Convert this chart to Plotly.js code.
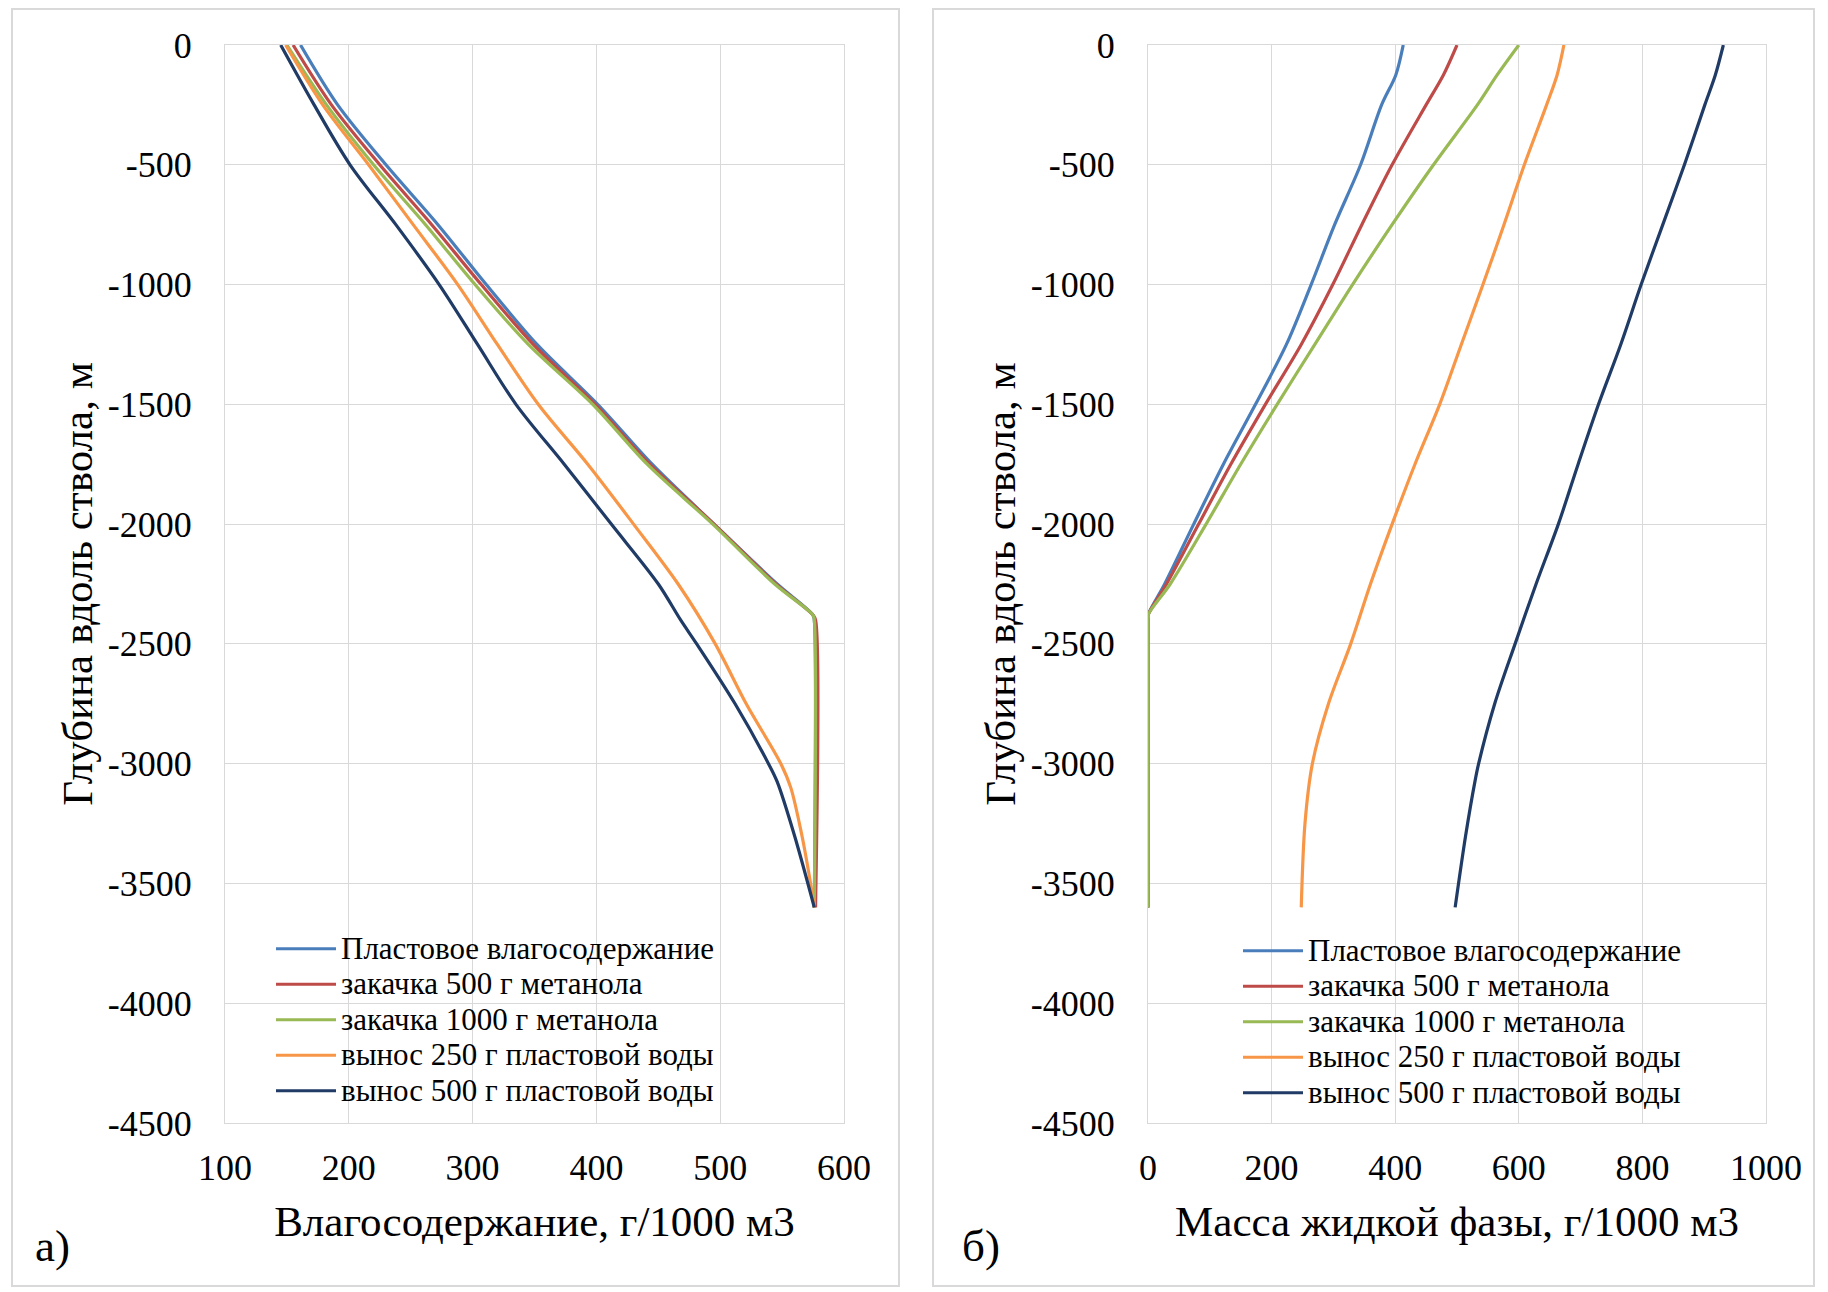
<!DOCTYPE html>
<html>
<head>
<meta charset="utf-8">
<script src="https://cdn.plot.ly/plotly-3.0.1.min.js"></script>
<style>
  html, body { margin: 0; padding: 0; background: #ffffff; }
  #chart { width: 1828px; height: 1292px; }
</style>
</head>
<body>
<div id="chart"></div>
<script>
// Series names and colours (shared by both panels)
const seriesNames = [
  'Пластовое влагосодержание',
  'закачка 500 г метанола',
  'закачка 1000 г метанола',
  'вынос 250 г пластовой воды',
  'вынос 500 г пластовой воды'
];
const seriesColors = ['#4A7EBB', '#BE4B48', '#98B954', '#F79646', '#1F3B66'];

// Depth tick labels (hyphen minus, as in the original layout)
const depthTicks = [0, -500, -1000, -1500, -2000, -2500, -3000, -3500, -4000, -4500];
const depthTickText = ['0', '-500', '-1000', '-1500', '-2000', '-2500', '-3000', '-3500', '-4000', '-4500'];

// Panel а): moisture content, g/1000 m3, along the wellbore
const depthA_base = [0, -250, -500, -750, -1000, -1250, -1500, -1750, -2000, -2250, -2380, -2400, -3600];
const moistPlast   = [161, 191, 230, 272, 311, 352, 401, 445, 495, 546, 575, 576, 576];
const moistMet500  = [155, 186, 225, 267, 307, 349, 399, 443, 495, 545, 575, 577, 577];
const moistMet1000 = [150, 182, 220, 262, 302, 345, 397, 441, 494, 544, 575, 576, 576];

const depthA_w250 = [0, -250, -500, -750, -1000, -1250, -1500, -1750, -2000, -2250, -2500, -2750, -3000, -3100, -3300, -3500, -3600];
const moistW250   = [149, 179, 216, 252, 288, 320, 353, 393, 430, 466, 496, 521, 549, 557, 566, 573, 576];

const depthA_w500 = [0, -250, -500, -750, -1000, -1250, -1500, -1750, -2000, -2250, -2400, -2500, -2750, -3000, -3075, -3300, -3600];
const moistW500   = [145, 172, 201, 238, 273, 304, 335, 374, 412, 450, 468, 481, 512, 539, 546, 560, 576];

// Panel б): liquid phase mass, g/1000 m3, along the wellbore
const depthB_base = [0, -125, -250, -500, -750, -1000, -1250, -1500, -1750, -2000, -2250, -2380, -2400, -3600];
const liqPlast    = [413, 401, 378, 344, 302, 264, 224, 174, 122, 74, 27, 0, 0, 0];
const liqMet500   = [500, 478, 450, 395, 346, 299, 248, 190, 134, 82, 30, 0, 0, 0];
const liqMet1000  = [600, 565, 533, 462, 395, 331, 270, 209, 150, 94, 36, 0, 0, 0];

const depthB_w250 = [0, -125, -250, -500, -750, -1000, -1250, -1500, -1750, -2000, -2250, -2500, -2750, -3000, -3250, -3600];
const liqW250     = [673, 662, 645, 609, 576, 542, 507, 472, 432, 395, 360, 328, 292, 266, 254, 248];

const depthB_w500 = [0, -125, -250, -500, -750, -1000, -1250, -1500, -1750, -2000, -2250, -2500, -2750, -3000, -3075, -3300, -3600];
const liqW500     = [931, 918, 901, 868, 833, 798, 765, 729, 696, 664, 628, 594, 561, 535, 529, 514, 497];

// ---- page geometry ----
const W = 1828, H = 1292;
const M = { l: 225, r: 62, t: 45, b: 169 };
const plotW = W - M.l - M.r, plotH = H - M.t - M.b;
const px = x => (x - M.l) / plotW;          // pixel x -> paper x
const py = y => 1 - (y - M.t) / plotH;      // pixel y -> paper y

const FONT = 'Liberation Serif, Times New Roman, serif';

const panelA = [
  [depthA_base, moistPlast], [depthA_base, moistMet500], [depthA_base, moistMet1000],
  [depthA_w250, moistW250], [depthA_w500, moistW500]
];
const panelB = [
  [depthB_base, liqPlast], [depthB_base, liqMet500], [depthB_base, liqMet1000],
  [depthB_w250, liqW250], [depthB_w500, liqW500]
];

// legend entries are set a little larger than the legend row pitch
const legendLabel = s => '<span style="font-size:31px">' + s + '</span>';

const lineStyle = color => ({ color, width: 3.2, shape: 'spline', smoothing: 0.9 });

const traces = [];
panelA.forEach(([d, v], i) => traces.push({
  type: 'scatter', mode: 'lines', x: v, y: d, name: legendLabel(seriesNames[i]),
  xaxis: 'x', yaxis: 'y', legend: 'legend', cliponaxis: false,
  line: lineStyle(seriesColors[i]), hoverinfo: 'x+y'
}));
panelB.forEach(([d, v], i) => traces.push({
  type: 'scatter', mode: 'lines', x: v, y: d, name: legendLabel(seriesNames[i]),
  xaxis: 'x2', yaxis: 'y2', legend: 'legend2', cliponaxis: false,
  line: lineStyle(seriesColors[i]), hoverinfo: 'x+y'
}));

const gridCol = '#d9d9d9';
const tickFont = { family: FONT, size: 36, color: '#000000' };
const titleFont = { family: FONT, size: 43, color: '#000000' };

function xAxis(domain, range, dtick, title, anchor) {
  return {
    domain, range, dtick, tick0: 0, anchor,
    showgrid: true, gridcolor: gridCol, gridwidth: 1,
    showline: true, linecolor: gridCol, linewidth: 1, mirror: true,
    zeroline: false, ticks: '', tickfont: tickFont, ticklabelstandoff: 13,
    title: { text: title, font: titleFont, standoff: 18 }, fixedrange: true
  };
}
function yAxis(anchor) {
  return {
    domain: [0, 1], range: [-4500, 0], anchor,
    tickmode: 'array', tickvals: depthTicks, ticktext: depthTickText,
    showgrid: true, gridcolor: gridCol, gridwidth: 1,
    showline: true, linecolor: gridCol, linewidth: 1, mirror: true,
    zeroline: false, ticks: '', tickfont: tickFont, ticklabelstandoff: 25,
    title: { text: 'Глубина вдоль ствола, м', font: titleFont, standoff: 1 }, fixedrange: true
  };
}

const legendBase = {
  font: { family: FONT, size: 25, color: '#000000' },
  bgcolor: 'rgba(0,0,0,0)', borderwidth: 0, itemwidth: 60,
  xanchor: 'left', yanchor: 'top', tracegroupgap: 0
};

const layout = {
  width: W, height: H,
  margin: M,
  paper_bgcolor: '#ffffff', plot_bgcolor: '#ffffff',
  showlegend: true,
  xaxis: xAxis([0, px(844)], [100, 600], 100, 'Влагосодержание, г/1000 м3', 'y'),
  yaxis: yAxis('x'),
  xaxis2: xAxis([px(1148), 1], [0, 1000], 200, 'Масса жидкой фазы, г/1000 м3', 'y2'),
  yaxis2: yAxis('x2'),
  legend: Object.assign({}, legendBase, { x: px(271), y: py(926) }),
  legend2: Object.assign({}, legendBase, { x: px(1238), y: py(928) }),
  shapes: [
    { type: 'rect', xref: 'paper', yref: 'paper', x0: px(12), x1: px(899), y0: py(1286), y1: py(9),
      line: { color: gridCol, width: 2 }, fillcolor: 'rgba(0,0,0,0)', layer: 'below' },
    { type: 'rect', xref: 'paper', yref: 'paper', x0: px(933), x1: px(1814), y0: py(1286), y1: py(9),
      line: { color: gridCol, width: 2 }, fillcolor: 'rgba(0,0,0,0)', layer: 'below' }
  ],
  annotations: [
    { text: 'а)', xref: 'paper', yref: 'paper', x: px(52), y: py(1246), showarrow: false,
      xanchor: 'center', yanchor: 'middle', font: { family: FONT, size: 45, color: '#000000' } },
    { text: 'б)', xref: 'paper', yref: 'paper', x: px(981), y: py(1246), showarrow: false,
      xanchor: 'center', yanchor: 'middle', font: { family: FONT, size: 45, color: '#000000' } }
  ]
};

Plotly.newPlot('chart', traces, layout, { staticPlot: true, displayModeBar: false });
</script>
</body>
</html>
